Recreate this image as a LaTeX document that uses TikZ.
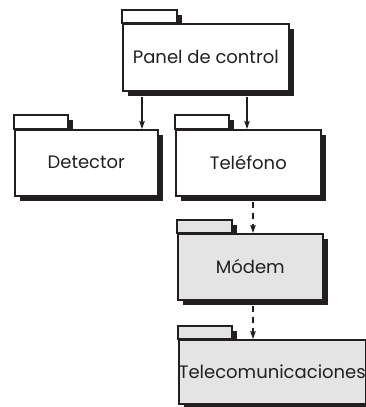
\documentclass[tikz,border=0pt]{standalone}
\usepackage{fontspec}
\setmainfont{Poppins}
\usetikzlibrary{shadows,arrows.meta}
\definecolor{ink}{HTML}{231F20}
\definecolor{pkgray}{HTML}{E4E4E4}
\tikzset{
  shd/.style={drop shadow={shadow xshift=5pt, shadow yshift=-5pt, fill=ink, opacity=1}},
  pkbody/.style={draw=ink, line width=1.6pt, fill=white, anchor=north west, inner sep=0pt,
     font=\fontsize{18}{22}\selectfont, text=ink, shd},
  pktab/.style={draw=ink, line width=1.6pt, fill=white, shd},
  grayfill/.style={fill=pkgray},
  solidarr/.style={draw=ink, line width=1.6pt, -{Stealth[length=8pt,width=5.5pt,inset=1.5pt]}},
  dasharr/.style={solidarr, dash pattern=on 6pt off 5pt}
}
\begin{document}
\begin{tikzpicture}[x=1pt,y=1pt]
\useasboundingbox (0,0) rectangle (365,407);
% Panel de control
\draw[pktab] (122,384) rectangle (177,397);
\node[pkbody, minimum width=166pt, minimum height=67pt] (panel) at (122,384) {Panel de control};
% Detector
\draw[pktab] (14,278) rectangle (68,292);
\node[pkbody, minimum width=143pt, minimum height=66pt] (detector) at (14,278) {Detector};
% Telefono
\draw[pktab] (175,278) rectangle (229,292);
\node[pkbody, minimum width=145pt, minimum height=66pt] (telefono) at (175,278) {Teléfono};
% Modem
\draw[pktab, grayfill] (177,174) rectangle (232,187);
\node[pkbody, grayfill, minimum width=145pt, minimum height=66pt] (modem) at (177,174) {Módem};
% Telecomunicaciones
\draw[pktab, grayfill] (178,68) rectangle (232,81);
\node[pkbody, grayfill, minimum width=183pt, minimum height=64pt] (telecom) at (178,68) {Telecomunicaciones};
% connectors
\draw[solidarr] ([xshift=20pt,yshift=-5pt]panel.south west) -- ([xshift=20pt]panel.south west |- detector.north);
\draw[solidarr] ([xshift=125pt,yshift=-5pt]panel.south west) -- ([xshift=125pt]panel.south west |- telefono.north);
\draw[dasharr] ([xshift=78pt,yshift=-5pt]telefono.south west) -- ([xshift=78pt]telefono.south west |- modem.north);
\draw[dasharr] ([xshift=76pt,yshift=-5pt]modem.south west) -- ([xshift=76pt]modem.south west |- telecom.north);
\end{tikzpicture}
\end{document}
